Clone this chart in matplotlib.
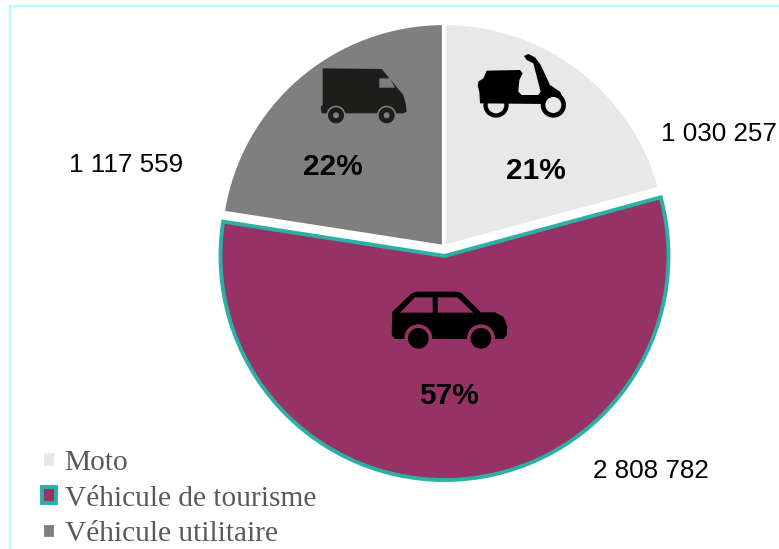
import matplotlib.pyplot as plt
from matplotlib.patches import Circle, Polygon, Rectangle

W, H = 779, 549

categories = ['Moto', 'Véhicule de tourisme', 'Véhicule utilitaire']
values = [1030257, 2808782, 1117559]
value_labels = ['1 030 257', '2 808 782', '1 117 559']
pct_labels = ['21%', '57%', '22%']
colors = ['#E8E8E8', '#963264', '#7F7F7F']

DARK = '#1D1D1B'
TEAL = '#2AB0A5'


# icons were measured on 3x crops, so points come in as crop coords
def to_px(pts, ox, oy):
    return [(ox + x / 3, H - (oy + y / 3)) for x, y in pts]


def poly(ax, pts, ox, oy, color, z=5):
    ax.add_patch(Polygon(to_px(pts, ox, oy), closed=True, fc=color, ec='none', zorder=z))


def circ(ax, x, y, r, ox, oy, color, z=5):
    ax.add_patch(Circle(to_px([(x, y)], ox, oy)[0], r / 3, fc=color, ec='none', zorder=z))


def draw_van(ax):
    ox, oy = 300, 50
    grey = colors[2]
    poly(ax, [(68, 55), (245, 57), (310, 135), (318, 165), (320, 185), (310, 190),
              (65, 190), (62, 170), (68, 165)], ox, oy, DARK)
    poly(ax, [(238, 85), (270, 85), (285, 113), (238, 113)], ox, oy, grey, 6)
    for x in (108, 260):
        circ(ax, x, 196, 29, ox, oy, grey, 6)
        circ(ax, x, 196, 24, ox, oy, DARK, 7)
        circ(ax, x, 196, 9, ox, oy, grey, 8)


def draw_scooter(ax):
    ox, oy = 300, 50
    light = colors[0]
    circ(ax, 588, 165, 38, ox, oy, 'black', 5)
    circ(ax, 588, 165, 25, ox, oy, light, 6)
    poly(ax, [(535, 95), (550, 85), (560, 62), (660, 60), (668, 70), (658, 90),
              (655, 125), (665, 135), (715, 135), (722, 125), (700, 40), (680, 30),
              (672, 18), (685, 12), (705, 22), (722, 45), (750, 105), (780, 125),
              (790, 145), (760, 150), (730, 162), (540, 160), (538, 125), (533, 108)],
         ox, oy, 'black', 7)
    circ(ax, 760, 165, 38, ox, oy, 'black', 7)
    circ(ax, 760, 165, 24, ox, oy, light, 8)


def draw_car(ax):
    ox, oy = 370, 270
    purple = colors[1]
    poly(ax, [(67, 125), (125, 70), (140, 65), (262, 65), (275, 70), (333, 127),
              (375, 127), (400, 140), (412, 170), (410, 195), (400, 207), (75, 207),
              (65, 195)], ox, oy, 'black')
    poly(ax, [(90, 128), (135, 82), (188, 82), (188, 128)], ox, oy, purple, 6)
    poly(ax, [(203, 82), (262, 82), (310, 128), (203, 128)], ox, oy, purple, 6)
    for x in (145, 333):
        circ(ax, x, 205, 42, ox, oy, purple, 6)
        circ(ax, x, 205, 31, ox, oy, 'black', 7)


fig = plt.figure(figsize=(W / 100, H / 100), dpi=100)
ax = fig.add_axes([0, 0, 1, 1])

# explode is in data units here, the axes run in pixels
wedges, _ = ax.pie(
    values,
    colors=colors,
    explode=[0, 9, 0],
    startangle=90,
    counterclock=False,
    radius=224,
    center=(444, H - 247),
    wedgeprops={'edgecolor': 'white', 'linewidth': 3},
)
wedges[1].set_edgecolor(TEAL)
wedges[1].set_linewidth(2.8)
wedges[1].set_zorder(3)

ax.set_xlim(0, W)
ax.set_ylim(0, H)
ax.set_aspect('auto')
ax.axis('off')

# frame around the chart, runs off the picture on the right and bottom
ax.add_patch(Rectangle((10, -20), W + 20, H - 6 + 20, fc='none', ec='#B3FFFF', lw=1.6, zorder=1))

draw_van(ax)
draw_scooter(ax)
draw_car(ax)

value_pos = [(719, 134), (651, 471), (126, 165)]
for txt, (x, y) in zip(value_labels, value_pos):
    ax.text(x, H - y, txt, ha='center', va='center', fontsize=18.7, color='black',
            family='Liberation Sans', zorder=9)

pct_pos = [(536, 171), (449, 396), (333, 167)]
for txt, (x, y) in zip(pct_labels, pct_pos):
    ax.text(x, H - y, txt, ha='center', va='center', fontsize=21.5, fontweight='bold',
            color='black', family='Liberation Sans', zorder=9)

leg = ax.legend(
    wedges, categories,
    loc='upper left',
    bbox_to_anchor=(42 / W, 1 - 450 / H),
    frameon=False,
    labelcolor='#595959',
    handlelength=0.47,
    handleheight=0.47,
    handletextpad=0.3,
    labelspacing=0.33,
    borderpad=0,
    borderaxespad=0,
    prop={'family': 'Liberation Serif', 'size': 21.2},
)

plt.savefig('out.png', dpi=100)
